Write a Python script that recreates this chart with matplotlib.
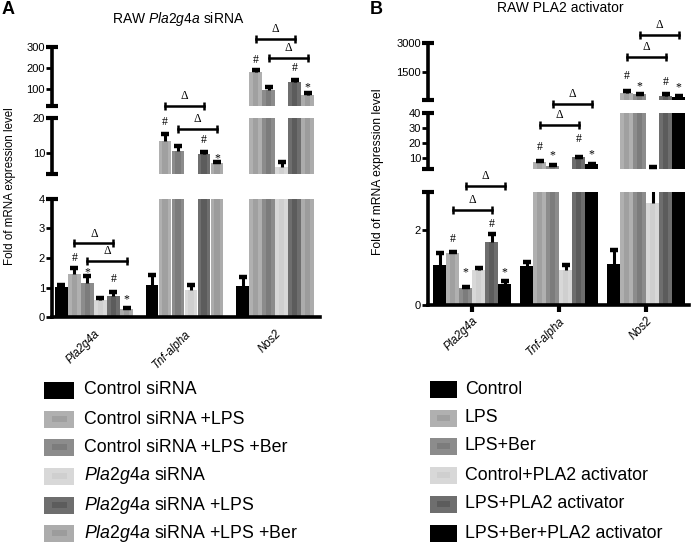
import numpy as np
import matplotlib
matplotlib.use('Agg')
import matplotlib.pyplot as plt
from matplotlib.patches import Rectangle

plt.rcParams['font.family'] = ['Liberation Sans', 'DejaVu Sans']
plt.rcParams['mathtext.fontset'] = 'custom'
plt.rcParams['mathtext.rm'] = 'Liberation Sans'
plt.rcParams['mathtext.it'] = 'Liberation Sans:italic'

W, H = 692, 546

genes = ['Pla2g4a', 'Tnf-alpha', 'Nos2']

# 数据: 行 = 处理组, 列 = Pla2g4a, Tnf-alpha, Nos2
a_groups = ['Control siRNA', 'Control siRNA +LPS', 'Control siRNA +LPS +Ber',
            r'$\mathit{Pla2g4a}$ siRNA', r'$\mathit{Pla2g4a}$ siRNA +LPS',
            r'$\mathit{Pla2g4a}$ siRNA +LPS +Ber']
a_mean = np.array([[1.02, 1.08, 1.05],
                   [1.45, 13.5, 180],
                   [1.16, 10.6, 98],
                   [0.57, 0.90, 6.0],
                   [0.71, 9.7, 136],
                   [0.27, 7.1, 74]])
a_err = np.array([[0.08, 0.33, 0.30],
                  [0.20, 1.8, 13],
                  [0.23, 1.4, 10],
                  [0.06, 0.17, 1.5],
                  [0.13, 0.7, 8],
                  [0.03, 0.3, 8]])

b_groups = ['Control', 'LPS', 'LPS+Ber', 'Control+PLA2 activator',
            'LPS+PLA2 activator', 'LPS+Ber+PLA2 activator']
b_mean = np.array([[1.05, 1.03, 1.08],
                   [1.37, 7.3, 414],
                   [0.45, 5.3, 347],
                   [0.93, 0.92, 2.7],
                   [1.67, 10.7, 275],
                   [0.55, 6.0, 223]])
b_err = np.array([[0.32, 0.12, 0.39],
                  [0.05, 0.7, 78],
                  [0.02, 0.5, 33],
                  [0.04, 0.13, 1.9],
                  [0.22, 0.3, 70],
                  [0.10, 0.3, 50]])

a_colors = ['#000000', '#b0b0b0', '#8c8c8c', '#d8d8d8', '#6e6e6e', '#acacac']
a_inner = ['#000000', '#a0a0a0', '#7c7c7c', '#cfcfcf', '#5c5c5c', '#9c9c9c']
b_colors = ['#000000', '#b0b0b0', '#8c8c8c', '#d8d8d8', '#6e6e6e', '#000000']
b_inner = ['#000000', '#a0a0a0', '#7c7c7c', '#cfcfcf', '#5c5c5c', '#000000']

# 断轴: 每段的范围和刻度
a_ylims = [(0, 4), (4, 20), (20, 300)]
a_yticks = [[0, 1, 2, 3, 4], [10, 20], [100, 200, 300]]
b_ylims = [(0, 3), (3, 40), (50, 3000)]
b_yticks = [[0, 2], [10, 20, 30, 40], [1500, 3000]]

# 显著性标记: (基因, 组, 段, y, 符号)
a_marks = [(0, 1, 0, 2.0, '#'), (0, 2, 0, 1.6, '*'), (0, 4, 0, 1.28, '#'), (0, 5, 0, 0.68, '*'),
           (1, 1, 1, 18.8, '#'), (1, 4, 1, 13.7, '#'), (1, 5, 1, 9.4, '*'),
           (2, 1, 2, 240, '#'), (2, 4, 2, 200, '#'), (2, 5, 2, 120, '*')]
b_marks = [(0, 1, 0, 1.76, '#'), (0, 2, 0, 0.95, '*'), (0, 4, 0, 2.15, '#'), (0, 5, 0, 0.95, '*'),
           (1, 1, 1, 17.3, '#'), (1, 2, 1, 14.0, '*'), (1, 4, 1, 23, '#'), (1, 5, 1, 14.7, '*'),
           (2, 1, 2, 1293, '#'), (2, 2, 2, 880, '*'), (2, 4, 2, 983, '#'), (2, 5, 2, 828, '*')]
# Δ 括号: (基因, 组1, 组2, 段, y)
a_brackets = [(0, 1, 4, 0, 2.5), (0, 2, 5, 0, 1.9),
              (1, 1, 4, 2, 22), (1, 2, 5, 1, 16.9),
              (2, 1, 4, 2, 339), (2, 2, 5, 2, 250)]
b_brackets = [(0, 1, 4, 0, 2.52), (0, 2, 5, 0, 3.16),
              (1, 1, 4, 1, 32), (1, 2, 5, 1, 46),
              (2, 1, 4, 2, 2275), (2, 2, 5, 2, 3413)]

fig = plt.figure(figsize=(W / 100, H / 100), dpi=100)


def draw_panel(x0, x1, segs, xlim, ylims, yticks, means, errs, colors, inner,
               pitch, marks, brackets, xtick_len, xpad):
    axes = []
    for k, ((top, bot), yl, yt) in enumerate(zip(segs, ylims, yticks)):
        ax = fig.add_axes([x0 / W, 1 - bot / H, (x1 - x0) / W, (bot - top) / H])
        ax.set_facecolor('none')
        for j in range(6):
            x = np.arange(3) + (j - 2.5) * pitch
            ax.bar(x, means[j], pitch * 0.93, color=colors[j], lw=0)
            ax.bar(x, means[j], pitch * 0.45, color=inner[j], lw=0)
            tops = means[j] + errs[j]
            ax.vlines(x, means[j], tops, color='k', lw=2.2)
            inside = (tops >= yl[0]) & (tops <= yl[1])
            ax.plot(x[inside], tops[inside], ls='none', marker='_', ms=6,
                    mew=3.2, color='k')
        ax.set_xlim(xlim)
        ax.set_ylim(yl)
        ax.set_yticks(yt)
        ax.tick_params(axis='y', length=4, width=2, labelsize=8, pad=1)
        ax.spines['top'].set_visible(False)
        ax.spines['right'].set_visible(False)
        ax.spines['left'].set_linewidth(2.6)
        ends = [yl[1]] if k == 0 else [yl[0], yl[1]]
        ax.plot([xlim[0]] * len(ends), ends, ls='none', marker='_', ms=8,
                mew=3, color='k', clip_on=False)
        if k == 0:
            ax.spines['bottom'].set_linewidth(2.6)
            ax.set_xticks(np.arange(3))
            ax.set_xticklabels(genes, rotation=45, ha='right', va='top',
                               rotation_mode='anchor', fontsize=8.3,
                               fontstyle='italic')
            ax.tick_params(axis='x', length=xtick_len, width=3, pad=xpad)
        else:
            ax.spines['bottom'].set_visible(False)
            ax.set_xticks([])
        axes.append(ax)

    for g, j, k, y, s in marks:
        off = -2 if s == '*' else 0
        axes[k].annotate(s, (g + (j - 2.5) * pitch, y), xytext=(0, off),
                         textcoords='offset points', ha='center', va='center',
                         fontsize=8.5, family='Liberation Serif', annotation_clip=False)
    for g, j1, j2, k, y in brackets:
        xa = g + (j1 - 2.5) * pitch
        xb = g + (j2 - 2.5) * pitch
        axes[k].plot([xa, xb], [y, y], color='k', lw=1.8, clip_on=False)
        axes[k].plot([xa, xb], [y, y], ls='none', marker='|', ms=6, mew=1.8,
                     color='k', clip_on=False)
        axes[k].annotate('\u0394', ((xa + xb) / 2, y), xytext=(0, 7),
                         textcoords='offset points', ha='center', va='center',
                         fontsize=8.5, family='Liberation Serif', annotation_clip=False)
    return axes


draw_panel(52, 320, [(199, 317), (118, 174), (47, 106)], (-0.464, 2.497),
           a_ylims, a_yticks, a_mean, a_err, a_colors, a_inner, 13 / 90.5,
           a_marks, a_brackets, 0, 8)
draw_panel(428, 689, [(192, 305), (113, 169), (43, 100)], (-0.506, 2.494),
           b_ylims, b_yticks, b_mean, b_err, b_colors, b_inner, 13 / 87,
           b_marks, b_brackets, 5, 2)

# 标题和轴标签
fig.text(8 / W, 1 - 10 / H, 'A', fontsize=13, fontweight='bold', ha='center', va='center')
fig.text(376 / W, 1 - 10 / H, 'B', fontsize=13, fontweight='bold', ha='center', va='center')
fig.text(178 / W, 1 - 19 / H, r'RAW $\mathit{Pla2g4a}$ siRNA', fontsize=10, ha='center', va='center')
fig.text(560 / W, 1 - 8 / H, 'RAW PLA2 activator', fontsize=10, ha='center', va='center')
fig.text(10 / W, 1 - 186 / H, 'Fold of mRNA expression level', fontsize=8.3,
         rotation=90, ha='center', va='center')
fig.text(378 / W, 1 - 172 / H, 'Fold of mRNA expression level', fontsize=8.7,
         rotation=90, ha='center', va='center')


# 图例
def draw_legend(px0, px1, tx, rows, labels, colors, inner):
    for yc, lab, c, ic in zip(rows, labels, colors, inner):
        h = 17
        fig.add_artist(Rectangle((px0 / W, 1 - (yc + h / 2) / H), (px1 - px0) / W, h / H,
                                 transform=fig.transFigure, color=c, lw=0))
        iw, ih = (px1 - px0) * 0.5, h * 0.36
        fig.add_artist(Rectangle(((px0 + px1) / 2 / W - iw / 2 / W, 1 - (yc + ih / 2) / H),
                                 iw / W, ih / H, transform=fig.transFigure, color=ic, lw=0))
        fig.text(tx / W, 1 - yc / H, lab, fontsize=12.8, ha='left', va='center')


draw_legend(44, 74, 84, [390, 419, 447, 476, 505, 533], a_groups, a_colors, a_inner)
draw_legend(430, 457, 465, [389, 418, 446, 475, 504, 533], b_groups, b_colors, b_inner)

fig.savefig('out.png', dpi=100)
